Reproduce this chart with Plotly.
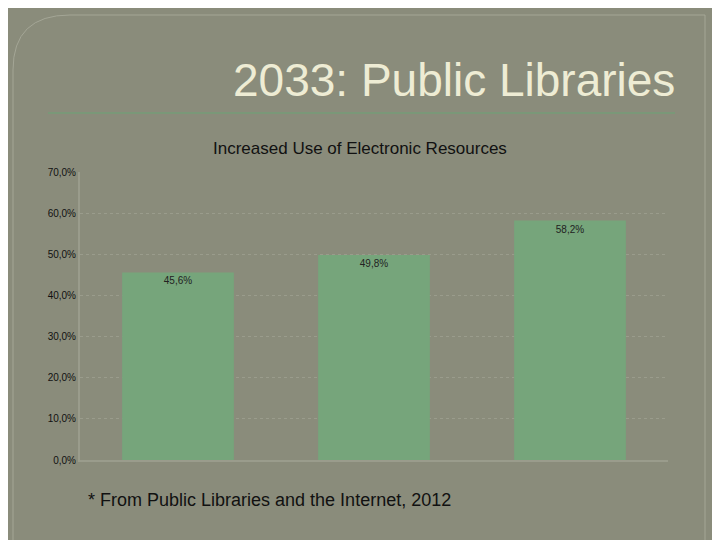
import plotly.graph_objects as go

categories = ["Item 1", "Item 2", "Item 3"]
values = [45.6, 49.8, 58.2]
labels = ["45,6%", "49,8%", "58,2%"]
tick_vals = [0, 10, 20, 30, 40, 50, 60, 70]
tick_text = ["0,0%", "10,0%", "20,0%", "30,0%", "40,0%", "50,0%", "60,0%", "70,0%"]

OFF = 8  # page body offset
L, R, T, B = 80, 668, 172, 460  # plot area in target pixel coords
W, H = 720 - OFF, 540 - OFF

fig = go.Figure(go.Bar(
    x=categories, y=values, text=labels, textposition="inside", insidetextanchor="end",
    textfont=dict(size=10, color="#222", family="Liberation Sans"),
    marker=dict(color="#76a57b", line=dict(width=0)), width=0.57))

fig.update_layout(
    width=W, height=H, paper_bgcolor="#8a8c7b", plot_bgcolor="#8a8c7b",
    margin=dict(l=L - OFF, r=W - (R - OFF), t=T - OFF, b=H - (B - OFF)), showlegend=False,
    font=dict(family="Liberation Sans", color="#111"),
    xaxis=dict(showticklabels=False, showgrid=False, zeroline=False,
               showline=True, linecolor="#9a9c8c", linewidth=2),
    yaxis=dict(range=[0, 70], tickvals=tick_vals, ticktext=tick_text,
               tickfont=dict(size=10, color="#111"), showgrid=True,
               gridcolor="#9a9c8c", gridwidth=1, griddash="dot", zeroline=False,
               showline=True, linecolor="#9a9c8c", linewidth=2, ticklen=0),
)
def px(x): return (x - L) / (R - L)
def py(y): return (B - y) / (B - T)
fig.add_shape(type="path", xref="paper", yref="paper",
              path=f"M {px(13)} {py(545)} L {px(13)} {py(70)} Q {px(13)} {py(15)} {px(70)} {py(15)} L {px(705)} {py(15)} L {px(705)} {py(545)}",
              line=dict(color="#a4a696", width=1))
fig.add_shape(type="line", xref="paper", yref="paper", x0=px(48), x1=px(675), y0=py(113), y1=py(113),
              line=dict(color="#7a9878", width=2))
fig.add_annotation(text="2033: Public Libraries", xref="paper", yref="paper", x=px(677), y=py(80),
                   xanchor="right", yanchor="middle", showarrow=False,
                   font=dict(size=46, color="#eeecd4", family="Liberation Sans"))
fig.add_annotation(text="Increased Use of Electronic Resources", xref="paper", yref="paper", x=px(360), y=py(148),
                   xanchor="center", yanchor="middle", showarrow=False,
                   font=dict(size=17, color="#111", family="Liberation Sans"))
fig.add_annotation(text="* From Public Libraries and the Internet, 2012", xref="paper", yref="paper", x=px(86), y=py(500),
                   xanchor="left", yanchor="middle", showarrow=False,
                   font=dict(size=18, color="#111", family="Liberation Sans"))
fig.write_html("out.html")
